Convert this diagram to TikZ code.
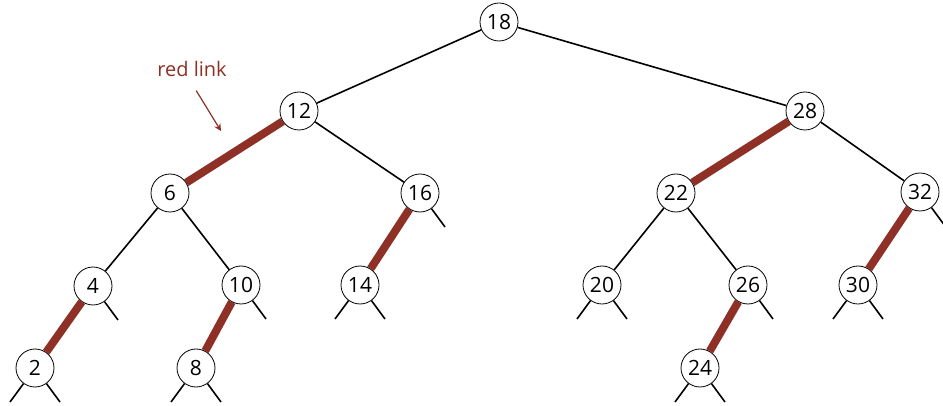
\documentclass[tikz,border=0pt]{standalone}
\usepackage{fontspec}
\setmainfont{Open Sans}
\definecolor{redlink}{RGB}{142,48,37}

\begin{document}
\begin{tikzpicture}[>=stealth, x=0.5pt, y=-0.5pt,
  key/.style={draw, circle, fill=white, minimum size=19pt, inner sep=0pt, font=\fontsize{10.5}{12}\selectfont},
  blk/.style={line width=0.8pt},
  red/.style={draw=redlink, line width=4pt},
  nil/.style={line width=0.8pt}]
\useasboundingbox (0,0) rectangle (943,406);

\node[key] (k18) at (499,22) {18};
\node[key] (k12) at (299,111) {12};
\node[key] (k28) at (805,111) {28};
\node[key] (k6) at (170,193) {6};
\node[key] (k16) at (420,193) {16};
\node[key] (k22) at (676,193) {22};
\node[key] (k32) at (920,192) {32};
\node[key] (k4) at (93,286) {4};
\node[key] (k10) at (241,285) {10};
\node[key] (k14) at (360,285) {14};
\node[key] (k20) at (602,285) {20};
\node[key] (k26) at (748,285) {26};
\node[key] (k30) at (858,285) {30};
\node[key] (k2) at (35,368) {2};
\node[key] (k8) at (196,368) {8};
\node[key] (k24) at (700,368) {24};

\draw[blk] (k18)--(k12);
\draw[blk] (k18)--(k28);
\draw[red] (k12)--(k6);
\draw[blk] (k12)--(k16);
\draw[red] (k28)--(k22);
\draw[blk] (k28)--(k32);
\draw[blk] (k6)--(k4);
\draw[blk] (k6)--(k10);
\draw[red] (k16)--(k14);
\draw[blk] (k22)--(k20);
\draw[blk] (k22)--(k26);
\draw[red] (k32)--(k30);
\draw[red] (k4)--(k2);
\draw[red] (k10)--(k8);
\draw[red] (k26)--(k24);

% null links
\foreach \k in {k2,k8,k14,k20,k24,k30}
  \draw[nil] (\k) -- ++(-25,34);
\foreach \k in {k2,k4,k8,k10,k14,k16,k20,k24,k26,k30,k32}
  \draw[nil] (\k) -- ++(25,34);

\node[text=redlink, font=\fontsize{10}{12}\selectfont] (lbl) at (192,69) {red link};
\coordinate (tip) at (221,131);
\draw[->, redlink, line width=0.6pt, shorten <=4pt] (lbl.south) -- (tip);
\end{tikzpicture}
\end{document}
